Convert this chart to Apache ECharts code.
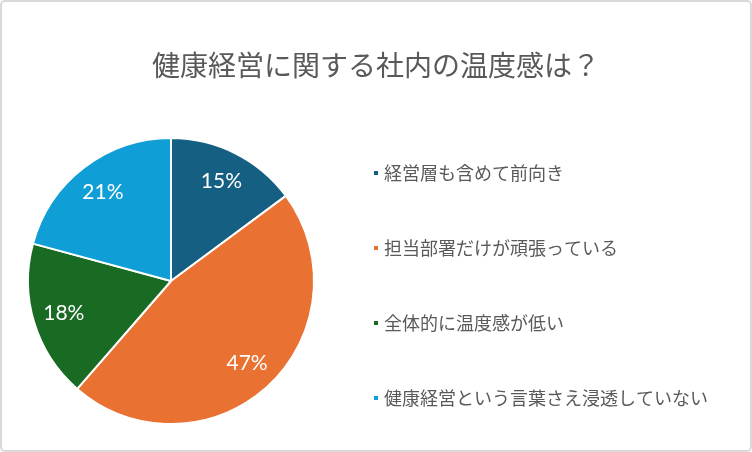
<!DOCTYPE html>
<html>
<head>
  <meta charset="utf-8">
  <title>健康経営に関する社内の温度感は？</title>
  <script src="https://cdn.jsdelivr.net/npm/echarts@6/dist/echarts.min.js"></script>
  <style>
    html, body { margin: 0; padding: 0; background: #fff; }
    #chart { width: 752px; height: 452px; }
  </style>
</head>
<body>
<div id="chart"></div>
<script>
  // データ
  var categories = ['経営層も含めて前向き', '担当部署だけが頑張っている', '全体的に温度感が低い', '健康経営という言葉さえ浸透していない'];
  var values = [15, 47, 18, 21];
  var colors = ['#156082', '#E97132', '#196B24', '#0F9ED5'];

  var font = "'Noto Sans CJK JP', 'Noto Sans', sans-serif";
  var pieData = categories.map(function (name, i) {
    return { name: name, value: values[i], itemStyle: { color: colors[i] } };
  });
  // ラベル用（塗りなし）
  var labelData = categories.map(function (name, i) {
    return { name: name, value: values[i] };
  });

  var chart = echarts.init(document.getElementById('chart'));
  chart.setOption({
    backgroundColor: '#FFFFFF',
    animation: false,
    graphic: [{
      type: 'rect',
      shape: { x: 1, y: 1, width: 750, height: 450, r: 4 },
      style: { fill: 'none', stroke: '#D9D9D9', lineWidth: 2 },
      silent: true
    }],
    title: {
      text: '健康経営に関する社内の温度感は？',
      left: 371,
      top: 46,
      textAlign: 'center',
      textStyle: { fontFamily: font, fontSize: 28, fontWeight: 'normal', color: '#595959' }
    },
    legend: {
      orient: 'vertical',
      left: 367,
      top: 159,
      icon: 'rect',
      itemWidth: 6,
      itemHeight: 6,
      itemGap: 57,
      data: categories,
      textStyle: { fontFamily: font, fontSize: 18, color: '#595959' }
    },
    series: [{
      // 円グラフ本体
      type: 'pie',
      center: [171, 281],
      radius: [0, 143],
      startAngle: 90,
      clockwise: true,
      data: pieData,
      itemStyle: { borderColor: '#FFFFFF', borderWidth: 2 },
      label: { show: false },
      labelLine: { show: false },
      silent: true
    }, {
      type: 'pie',
      center: [171, 281],
      radius: [75, 143],
      startAngle: 90,
      clockwise: true,
      data: labelData,
      legendHoverLink: false,
      itemStyle: { color: 'rgba(0,0,0,0)', borderWidth: 0 },
      label: {
        show: true,
        position: 'inside',
        formatter: '{c}%',
        fontFamily: "Lato, 'Noto Sans', sans-serif",
        fontSize: 21,
        color: '#FFFFFF'
      },
      labelLine: { show: false },
      silent: true
    }]
  });
</script>
</body>
</html>
